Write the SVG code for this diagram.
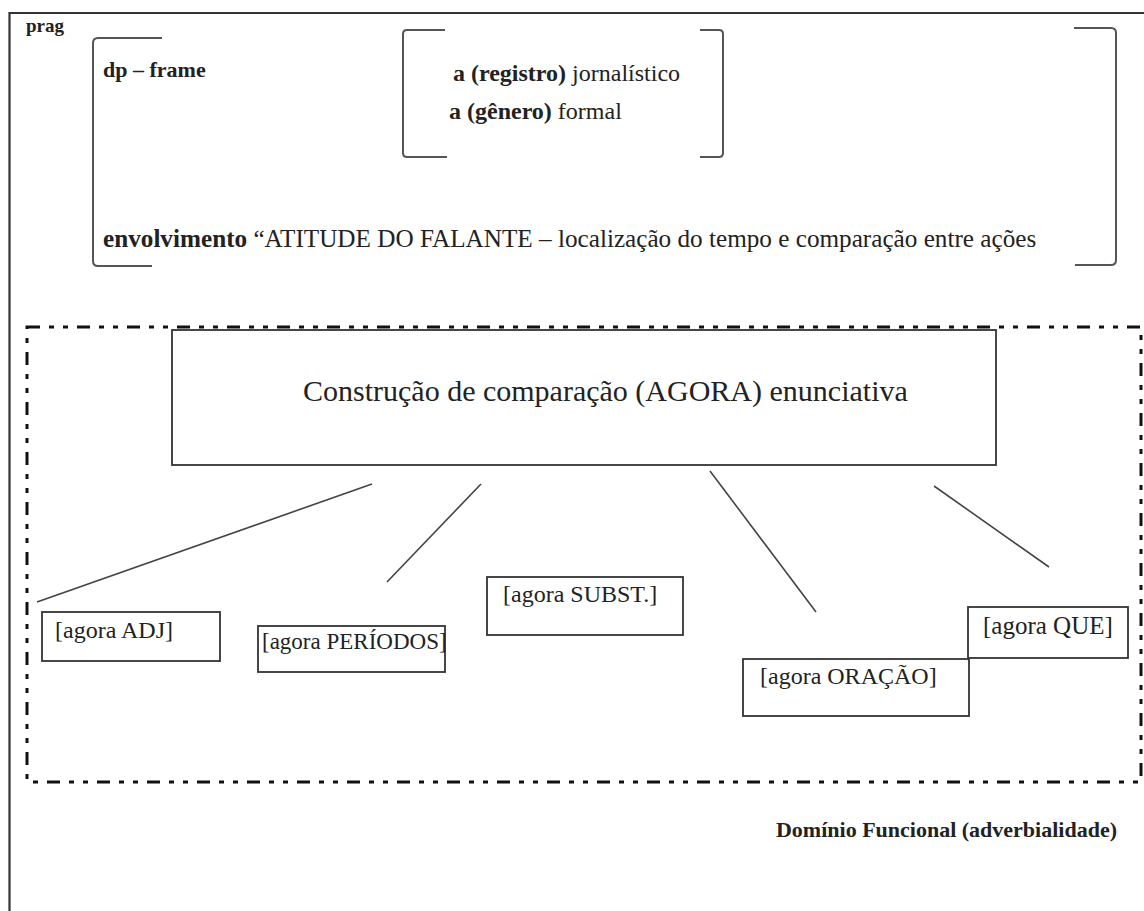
<svg xmlns="http://www.w3.org/2000/svg" width="1144" height="911" viewBox="0 0 1144 911">
<style>
.t{font-family:"Liberation Serif","Times New Roman",serif;fill:#222}
.b{font-weight:bold}
.brk{fill:none;stroke:#555;stroke-width:2}
.box{fill:#fff;stroke:#333;stroke-width:1.8}
.ln{stroke:#444;stroke-width:1.6}
.lbl{font-size:24px}
</style>
<rect width="1144" height="911" fill="#fff"/>
<g id="frame">
<path d="M1144 13 H9.5 V911" fill="none" stroke="#333" stroke-width="2.2"/>
<text class="t b" x="26" y="32" font-size="19">prag</text>
</g>
<g id="prag-bracket">
<path class="brk" d="M162 38 H98 Q93 38 93 43 V261 Q93 266 98 266 H152"/>
<path class="brk" d="M1074 28 H1111 Q1116 28 1116 33 V260 Q1116 265 1111 265 H1075"/>
<text class="t b" x="103" y="77" font-size="22">dp – frame</text>
<text class="t" x="103" y="247" font-size="25.2"><tspan class="b">envolvimento</tspan> “ATITUDE DO FALANTE – localização do tempo e comparação entre ações</text>
</g>
<g id="frame-bracket">
<path class="brk" d="M445 30 H407 Q403 30 403 34 V153 Q403 157 407 157 H447"/>
<path class="brk" d="M700 30 H719 Q723 30 723 34 V153 Q723 157 719 157 H700"/>
<text class="t" x="453" y="81" font-size="24"><tspan class="b">a (registro)</tspan> jornalístico</text>
<text class="t" x="449" y="119" font-size="24"><tspan class="b">a (gênero)</tspan> formal</text>
</g>
<g id="domain">
<rect x="27" y="327" width="1114" height="455" fill="none" stroke="#111" stroke-width="3" stroke-dasharray="13 9 5 9 5 9"/>
<text class="t b" x="1117" y="837" font-size="22" text-anchor="end">Domínio Funcional (adverbialidade)</text>
</g>
<g id="connectors">
<line class="ln" x1="372" y1="484" x2="37" y2="602"/>
<line class="ln" x1="481" y1="484" x2="387" y2="582"/>
<line class="ln" x1="710" y1="471" x2="816" y2="612"/>
<line class="ln" x1="934" y1="486" x2="1049" y2="567"/>
</g>
<g id="main">
<rect class="box" x="172" y="330" width="824" height="135"/>
<text class="t" x="303" y="401" font-size="30">Construção de comparação (AGORA) enunciativa</text>
</g>
<g id="adj">
<rect class="box" x="42" y="612" width="178" height="49"/>
<text class="t lbl" x="55" y="638">[agora ADJ]</text>
</g>
<g id="periodos">
<rect class="box" x="258" y="626" width="187" height="46"/>
<text class="t" x="262" y="649" font-size="23">[agora PERÍODOS]</text>
</g>
<g id="subst">
<rect class="box" x="487" y="577" width="196" height="58"/>
<text class="t lbl" x="503" y="602">[agora SUBST.]</text>
</g>
<g id="oracao">
<rect class="box" x="743" y="659" width="226" height="57"/>
<text class="t lbl" x="760" y="684">[agora ORAÇÃO]</text>
</g>
<g id="que">
<rect class="box" x="968" y="607" width="160" height="51"/>
<text class="t" x="983" y="634" font-size="25">[agora QUE]</text>
</g>
</svg>
